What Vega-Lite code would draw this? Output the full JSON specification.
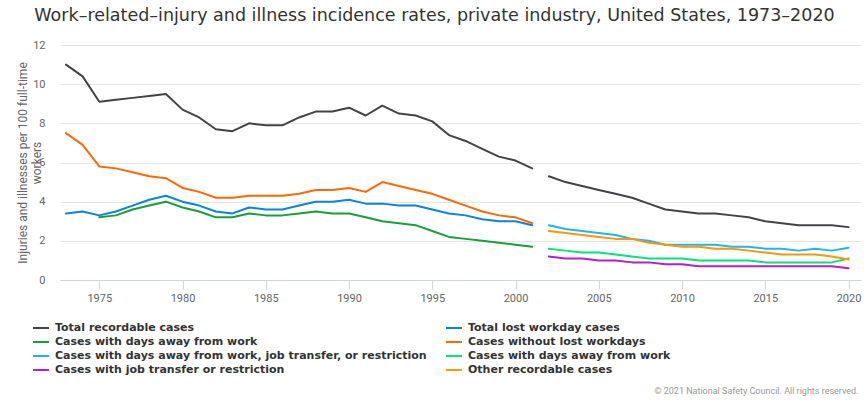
{
  "$schema": "https://vega.github.io/schema/vega-lite/v6.json",
  "width": 801,
  "height": 235,
  "autosize": {"type": "none"},
  "padding": {"left": 60, "top": 45, "right": 7, "bottom": 123},
  "background": "#ffffff",
  "title": {
    "text": "Work–related–injury and illness incidence rates, private industry, United States, 1973–2020",
    "font": "DejaVu Sans",
    "fontSize": 17.5,
    "fontWeight": "normal",
    "color": "#333333",
    "anchor": "middle",
    "dx": -26,
    "offset": 15
  },
  "data": {
    "values": [
      {"year": 1973, "era": "1973-2001", "Total recordable cases": 11.0, "Total lost workday cases": 3.4, "Cases without lost workdays": 7.5},
      {"year": 1974, "era": "1973-2001", "Total recordable cases": 10.4, "Total lost workday cases": 3.5, "Cases without lost workdays": 6.9},
      {"year": 1975, "era": "1973-2001", "Total recordable cases": 9.1, "Total lost workday cases": 3.3, "Cases with days away from work": 3.2, "Cases without lost workdays": 5.8},
      {"year": 1976, "era": "1973-2001", "Total recordable cases": 9.2, "Total lost workday cases": 3.5, "Cases with days away from work": 3.3, "Cases without lost workdays": 5.7},
      {"year": 1977, "era": "1973-2001", "Total recordable cases": 9.3, "Total lost workday cases": 3.8, "Cases with days away from work": 3.6, "Cases without lost workdays": 5.5},
      {"year": 1978, "era": "1973-2001", "Total recordable cases": 9.4, "Total lost workday cases": 4.1, "Cases with days away from work": 3.8, "Cases without lost workdays": 5.3},
      {"year": 1979, "era": "1973-2001", "Total recordable cases": 9.5, "Total lost workday cases": 4.3, "Cases with days away from work": 4.0, "Cases without lost workdays": 5.2},
      {"year": 1980, "era": "1973-2001", "Total recordable cases": 8.7, "Total lost workday cases": 4.0, "Cases with days away from work": 3.7, "Cases without lost workdays": 4.7},
      {"year": 1981, "era": "1973-2001", "Total recordable cases": 8.3, "Total lost workday cases": 3.8, "Cases with days away from work": 3.5, "Cases without lost workdays": 4.5},
      {"year": 1982, "era": "1973-2001", "Total recordable cases": 7.7, "Total lost workday cases": 3.5, "Cases with days away from work": 3.2, "Cases without lost workdays": 4.2},
      {"year": 1983, "era": "1973-2001", "Total recordable cases": 7.6, "Total lost workday cases": 3.4, "Cases with days away from work": 3.2, "Cases without lost workdays": 4.2},
      {"year": 1984, "era": "1973-2001", "Total recordable cases": 8.0, "Total lost workday cases": 3.7, "Cases with days away from work": 3.4, "Cases without lost workdays": 4.3},
      {"year": 1985, "era": "1973-2001", "Total recordable cases": 7.9, "Total lost workday cases": 3.6, "Cases with days away from work": 3.3, "Cases without lost workdays": 4.3},
      {"year": 1986, "era": "1973-2001", "Total recordable cases": 7.9, "Total lost workday cases": 3.6, "Cases with days away from work": 3.3, "Cases without lost workdays": 4.3},
      {"year": 1987, "era": "1973-2001", "Total recordable cases": 8.3, "Total lost workday cases": 3.8, "Cases with days away from work": 3.4, "Cases without lost workdays": 4.4},
      {"year": 1988, "era": "1973-2001", "Total recordable cases": 8.6, "Total lost workday cases": 4.0, "Cases with days away from work": 3.5, "Cases without lost workdays": 4.6},
      {"year": 1989, "era": "1973-2001", "Total recordable cases": 8.6, "Total lost workday cases": 4.0, "Cases with days away from work": 3.4, "Cases without lost workdays": 4.6},
      {"year": 1990, "era": "1973-2001", "Total recordable cases": 8.8, "Total lost workday cases": 4.1, "Cases with days away from work": 3.4, "Cases without lost workdays": 4.7},
      {"year": 1991, "era": "1973-2001", "Total recordable cases": 8.4, "Total lost workday cases": 3.9, "Cases with days away from work": 3.2, "Cases without lost workdays": 4.5},
      {"year": 1992, "era": "1973-2001", "Total recordable cases": 8.9, "Total lost workday cases": 3.9, "Cases with days away from work": 3.0, "Cases without lost workdays": 5.0},
      {"year": 1993, "era": "1973-2001", "Total recordable cases": 8.5, "Total lost workday cases": 3.8, "Cases with days away from work": 2.9, "Cases without lost workdays": 4.8},
      {"year": 1994, "era": "1973-2001", "Total recordable cases": 8.4, "Total lost workday cases": 3.8, "Cases with days away from work": 2.8, "Cases without lost workdays": 4.6},
      {"year": 1995, "era": "1973-2001", "Total recordable cases": 8.1, "Total lost workday cases": 3.6, "Cases with days away from work": 2.5, "Cases without lost workdays": 4.4},
      {"year": 1996, "era": "1973-2001", "Total recordable cases": 7.4, "Total lost workday cases": 3.4, "Cases with days away from work": 2.2, "Cases without lost workdays": 4.1},
      {"year": 1997, "era": "1973-2001", "Total recordable cases": 7.1, "Total lost workday cases": 3.3, "Cases with days away from work": 2.1, "Cases without lost workdays": 3.8},
      {"year": 1998, "era": "1973-2001", "Total recordable cases": 6.7, "Total lost workday cases": 3.1, "Cases with days away from work": 2.0, "Cases without lost workdays": 3.5},
      {"year": 1999, "era": "1973-2001", "Total recordable cases": 6.3, "Total lost workday cases": 3.0, "Cases with days away from work": 1.9, "Cases without lost workdays": 3.3},
      {"year": 2000, "era": "1973-2001", "Total recordable cases": 6.1, "Total lost workday cases": 3.0, "Cases with days away from work": 1.8, "Cases without lost workdays": 3.2},
      {"year": 2001, "era": "1973-2001", "Total recordable cases": 5.7, "Total lost workday cases": 2.8, "Cases with days away from work": 1.7, "Cases without lost workdays": 2.9},
      {"year": 2002, "era": "2002-2020", "Total recordable cases": 5.3, "Cases with days away from work, job transfer, or restriction": 2.8, "Cases with days away from work ": 1.6, "Cases with job transfer or restriction": 1.2, "Other recordable cases": 2.5},
      {"year": 2003, "era": "2002-2020", "Total recordable cases": 5.0, "Cases with days away from work, job transfer, or restriction": 2.6, "Cases with days away from work ": 1.5, "Cases with job transfer or restriction": 1.1, "Other recordable cases": 2.4},
      {"year": 2004, "era": "2002-2020", "Total recordable cases": 4.8, "Cases with days away from work, job transfer, or restriction": 2.5, "Cases with days away from work ": 1.4, "Cases with job transfer or restriction": 1.1, "Other recordable cases": 2.3},
      {"year": 2005, "era": "2002-2020", "Total recordable cases": 4.6, "Cases with days away from work, job transfer, or restriction": 2.4, "Cases with days away from work ": 1.4, "Cases with job transfer or restriction": 1.0, "Other recordable cases": 2.2},
      {"year": 2006, "era": "2002-2020", "Total recordable cases": 4.4, "Cases with days away from work, job transfer, or restriction": 2.3, "Cases with days away from work ": 1.3, "Cases with job transfer or restriction": 1.0, "Other recordable cases": 2.1},
      {"year": 2007, "era": "2002-2020", "Total recordable cases": 4.2, "Cases with days away from work, job transfer, or restriction": 2.1, "Cases with days away from work ": 1.2, "Cases with job transfer or restriction": 0.9, "Other recordable cases": 2.1},
      {"year": 2008, "era": "2002-2020", "Total recordable cases": 3.9, "Cases with days away from work, job transfer, or restriction": 2.0, "Cases with days away from work ": 1.1, "Cases with job transfer or restriction": 0.9, "Other recordable cases": 1.9},
      {"year": 2009, "era": "2002-2020", "Total recordable cases": 3.6, "Cases with days away from work, job transfer, or restriction": 1.8, "Cases with days away from work ": 1.1, "Cases with job transfer or restriction": 0.8, "Other recordable cases": 1.8},
      {"year": 2010, "era": "2002-2020", "Total recordable cases": 3.5, "Cases with days away from work, job transfer, or restriction": 1.8, "Cases with days away from work ": 1.1, "Cases with job transfer or restriction": 0.8, "Other recordable cases": 1.7},
      {"year": 2011, "era": "2002-2020", "Total recordable cases": 3.4, "Cases with days away from work, job transfer, or restriction": 1.8, "Cases with days away from work ": 1.0, "Cases with job transfer or restriction": 0.7, "Other recordable cases": 1.7},
      {"year": 2012, "era": "2002-2020", "Total recordable cases": 3.4, "Cases with days away from work, job transfer, or restriction": 1.8, "Cases with days away from work ": 1.0, "Cases with job transfer or restriction": 0.7, "Other recordable cases": 1.6},
      {"year": 2013, "era": "2002-2020", "Total recordable cases": 3.3, "Cases with days away from work, job transfer, or restriction": 1.7, "Cases with days away from work ": 1.0, "Cases with job transfer or restriction": 0.7, "Other recordable cases": 1.6},
      {"year": 2014, "era": "2002-2020", "Total recordable cases": 3.2, "Cases with days away from work, job transfer, or restriction": 1.7, "Cases with days away from work ": 1.0, "Cases with job transfer or restriction": 0.7, "Other recordable cases": 1.5},
      {"year": 2015, "era": "2002-2020", "Total recordable cases": 3.0, "Cases with days away from work, job transfer, or restriction": 1.6, "Cases with days away from work ": 0.9, "Cases with job transfer or restriction": 0.7, "Other recordable cases": 1.4},
      {"year": 2016, "era": "2002-2020", "Total recordable cases": 2.9, "Cases with days away from work, job transfer, or restriction": 1.6, "Cases with days away from work ": 0.9, "Cases with job transfer or restriction": 0.7, "Other recordable cases": 1.3},
      {"year": 2017, "era": "2002-2020", "Total recordable cases": 2.8, "Cases with days away from work, job transfer, or restriction": 1.5, "Cases with days away from work ": 0.9, "Cases with job transfer or restriction": 0.7, "Other recordable cases": 1.3},
      {"year": 2018, "era": "2002-2020", "Total recordable cases": 2.8, "Cases with days away from work, job transfer, or restriction": 1.6, "Cases with days away from work ": 0.9, "Cases with job transfer or restriction": 0.7, "Other recordable cases": 1.3},
      {"year": 2019, "era": "2002-2020", "Total recordable cases": 2.8, "Cases with days away from work, job transfer, or restriction": 1.5, "Cases with days away from work ": 0.9, "Cases with job transfer or restriction": 0.7, "Other recordable cases": 1.2},
      {"year": 2020, "era": "2002-2020", "Total recordable cases": 2.7, "Cases with days away from work, job transfer, or restriction": 1.65, "Cases with days away from work ": 1.1, "Cases with job transfer or restriction": 0.6, "Other recordable cases": 1.05}
    ]
  },
  "transform": [
    {
      "fold": [
        "Total recordable cases",
        "Total lost workday cases",
        "Cases with days away from work",
        "Cases without lost workdays",
        "Cases with days away from work, job transfer, or restriction",
        "Cases with days away from work ",
        "Cases with job transfer or restriction",
        "Other recordable cases"
      ],
      "as": ["series", "value"]
    },
    {"filter": "isValid(datum.value)"}
  ],
  "mark": {"type": "line", "strokeWidth": 2, "strokeJoin": "round", "strokeCap": "round"},
  "encoding": {
    "x": {
      "field": "year",
      "type": "quantitative",
      "scale": {"domain": [1972.64, 2020.75], "nice": false, "zero": false},
      "axis": {
        "values": [1975, 1980, 1985, 1990, 1995, 2000, 2005, 2010, 2015, 2020],
        "format": "d",
        "grid": false,
        "domainColor": "#ccd6eb",
        "domainWidth": 1,
        "tickColor": "#ccd6eb",
        "tickSize": 9,
        "labelPadding": 3,
        "labelFont": "Roboto",
        "labelFontSize": 11,
        "labelColor": "#666666",
        "title": "© 2021 National Safety Council. All rights reserved.",
        "titleFont": "Roboto",
        "titleFontSize": 9,
        "titleFontWeight": "normal",
        "titleColor": "#999999",
        "titleAnchor": "end",
        "titleAlign": "right",
        "titleBaseline": "alphabetic",
        "titleX": 798,
        "titleY": 113
      }
    },
    "y": {
      "field": "value",
      "type": "quantitative",
      "scale": {"domain": [0, 12], "nice": false},
      "axis": {
        "values": [0, 2, 4, 6, 8, 10, 12],
        "domain": false,
        "ticks": false,
        "gridColor": "#e6e6e6",
        "labelPadding": 15,
        "labelFont": "Roboto",
        "labelFontSize": 11,
        "labelColor": "#666666",
        "title": ["Injuries and illnesses per 100 full-time", "workers"],
        "titleFont": "Roboto",
        "titleFontSize": 12,
        "titleFontWeight": "normal",
        "titleColor": "#666666",
        "titleLineHeight": 14,
        "titleAngle": -90,
        "titleAlign": "center",
        "titleBaseline": "middle",
        "titleX": -38,
        "titleY": 117.5
      }
    },
    "color": {
      "field": "series",
      "type": "nominal",
      "scale": {
        "domain": [
          "Total recordable cases",
          "Cases with days away from work",
          "Cases with days away from work, job transfer, or restriction",
          "Cases with job transfer or restriction",
          "Total lost workday cases",
          "Cases without lost workdays",
          "Cases with days away from work ",
          "Other recordable cases"
        ],
        "range": ["#434348", "#1a9e3c", "#1ab6ff", "#b41fc6", "#0a84d6", "#ff6a00", "#00e676", "#ff9800"]
      },
      "legend": {
        "title": null,
        "orient": "none",
        "legendX": -28,
        "legendY": 274,
        "columns": 2,
        "columnPadding": 15,
        "rowPadding": 0,
        "symbolType": "stroke",
        "symbolSize": 256,
        "symbolStrokeWidth": 2,
        "labelFont": "DejaVu Sans",
        "labelFontSize": 11,
        "labelFontWeight": "bold",
        "labelColor": "#333333",
        "labelOffset": 5,
        "labelLimit": 0
      }
    },
    "detail": {"field": "era", "type": "nominal"}
  },
  "config": {
    "view": {"stroke": null}
  }
}
